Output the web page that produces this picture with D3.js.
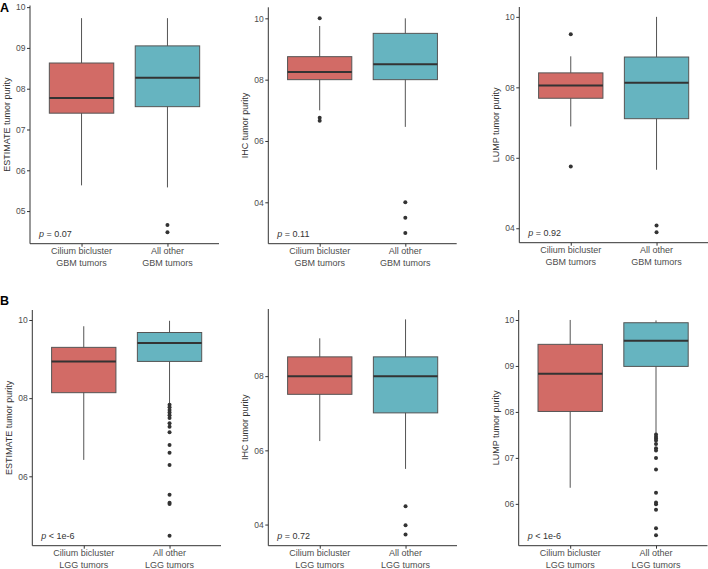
<!DOCTYPE html>
<html>
<head>
<meta charset="utf-8">
<script src="https://cdn.jsdelivr.net/npm/d3@7"></script>
<style>
  body { margin: 0; background: #fff; }
  svg { font-family: "Liberation Sans", Arial, sans-serif; }
</style>
</head>
<body>
<svg id="chart" width="708" height="569"></svg>
<script>
'use strict';

// box stats per group: [lower whisker, q1, median, q3, upper whisker]
const groupNames = ['Cilium bicluster', 'All other'];

const estimateGBM = [[0.563, 0.740, 0.777, 0.863, 0.973], [0.558, 0.756, 0.827, 0.905, 0.973]];
const estimateGBMOut = [[], [0.466, 0.448]];

const ihcGBM = [[0.700, 0.800, 0.825, 0.875, 0.975], [0.646, 0.800, 0.850, 0.951, 1.000]];
const ihcGBMOut = [[1.000, 0.676, 0.666], [0.400, 0.350, 0.300]];

const lumpGBM = [[0.689, 0.769, 0.805, 0.841, 0.888], [0.566, 0.711, 0.813, 0.886, 1.000]];
const lumpGBMOut = [[0.951, 0.575], [0.408, 0.389]];

const estimateLGG = [[0.642, 0.814, 0.894, 0.930, 0.984], [0.786, 0.894, 0.941, 0.968, 0.998]];
const estimateLGGOut = [[], [0.783, 0.777, 0.770, 0.763, 0.756, 0.749, 0.736, 0.727, 0.713,
  0.680, 0.660, 0.629, 0.553, 0.532, 0.529, 0.448]];

const ihcLGG = [[0.625, 0.751, 0.800, 0.852, 0.902], [0.550, 0.701, 0.800, 0.852, 0.953]];
const ihcLGGOut = [[], [0.449, 0.398, 0.373]];

const lumpLGG = [[0.635, 0.801, 0.883, 0.947, 1.000], [0.754, 0.899, 0.955, 0.994, 0.999]];
const lumpLGGOut = [[], [0.751, 0.746, 0.742, 0.738, 0.730, 0.721, 0.716, 0.700, 0.675,
  0.624, 0.603, 0.599, 0.587, 0.547, 0.532]];

const pValues = ['= 0.07', '= 0.11', '= 0.92', '< 1e-6', '= 0.72', '< 1e-6'];

const ticksA = [[0.5, 0.6, 0.7, 0.8, 0.9, 1.0], [0.4, 0.6, 0.8, 1.0], [0.4, 0.6, 0.8, 1.0]];
const ticksB = [[0.6, 0.8, 1.0], [0.4, 0.6, 0.8], [0.6, 0.7, 0.8, 0.9, 1.0]];

const fills = ['#d26b66', '#66b4c0'];

const panels = [
  {stats: estimateGBM, out: estimateGBMOut, title: 'ESTIMATE tumor purity', tumor: 'GBM', ticks: ticksA[0], p: pValues[0],
   x0: 30, x1: 219, top: 5.5, bottom: 243.7, domain: [0.420, 1.004]},
  {stats: ihcGBM, out: ihcGBMOut, title: 'IHC tumor purity', tumor: 'GBM', ticks: ticksA[1], p: pValues[1],
   x0: 268.3, x1: 456.7, top: 7.3, bottom: 243.7, domain: [0.265, 1.036]},
  {stats: lumpGBM, out: lumpGBMOut, title: 'LUMP tumor purity', tumor: 'GBM', ticks: ticksA[2], p: pValues[2],
   x0: 519.3, x1: 708, top: 7, bottom: 242.7, domain: [0.359, 1.028]},
  {stats: estimateLGG, out: estimateLGGOut, title: 'ESTIMATE tumor purity', tumor: 'LGG', ticks: ticksB[0], p: pValues[3],
   x0: 32.3, x1: 221, top: 310, bottom: 545.7, domain: [0.4224, 1.0256]},
  {stats: ihcLGG, out: ihcLGGOut, title: 'IHC tumor purity', tumor: 'LGG', ticks: ticksB[1], p: pValues[4],
   x0: 268.3, x1: 457, top: 309, bottom: 545.7, domain: [0.343, 0.981]},
  {stats: lumpLGG, out: lumpLGGOut, title: 'LUMP tumor purity', tumor: 'LGG', ticks: ticksB[2], p: pValues[5],
   x0: 518.7, x1: 707.5, top: 310, bottom: 545.7, domain: [0.509, 1.0217]}
];

const svg = d3.select('#chart');

// tick labels as printed in the figure (decimal point dropped)
const fmt = v => v.toFixed(1).replace('.', '');

panels.forEach(P => {
  const g = svg.append('g');

  const x = d3.scalePoint()
    .domain(groupNames)
    .range([P.x0, P.x1])
    .padding(0.6);

  const step = x.step();
  const bw = step * 0.75;

  const y = d3.scaleLinear()
    .domain(P.domain)
    .range([P.bottom, P.top]);

  const boxes = g.selectAll('g.box')
    .data(P.stats.map((s, i) => ({s, i, name: groupNames[i], out: P.out[i]})))
    .join('g')
      .attr('class', 'box');

  boxes.append('line')
    .attr('x1', d => x(d.name)).attr('x2', d => x(d.name))
    .attr('y1', d => y(d.s[0])).attr('y2', d => y(d.s[4]))
    .attr('stroke', '#555').attr('stroke-width', 1);

  boxes.append('rect')
    .attr('x', d => x(d.name) - bw / 2)
    .attr('width', bw)
    .attr('y', d => y(d.s[3]))
    .attr('height', d => y(d.s[1]) - y(d.s[3]))
    .attr('fill', d => fills[d.i])
    .attr('stroke', '#555')
    .attr('stroke-width', 1);

  boxes.append('line')
    .attr('x1', d => x(d.name) - bw / 2).attr('x2', d => x(d.name) + bw / 2)
    .attr('y1', d => y(d.s[2])).attr('y2', d => y(d.s[2]))
    .attr('stroke', '#333').attr('stroke-width', 2);

  boxes.selectAll('circle')
    .data(d => d.out.map(v => ({v, name: d.name})))
    .join('circle')
      .attr('cx', d => x(d.name))
      .attr('cy', d => y(d.v))
      .attr('r', 2)
      .attr('fill', '#333');

  // y axis
  const ya = g.append('g')
    .attr('transform', 'translate(' + P.x0 + ',0)')
    .call(d3.axisLeft(y).tickValues(P.ticks).tickFormat(fmt).tickSize(3).tickPadding(1.5));
  ya.select('.domain').remove();
  ya.selectAll('.tick line').attr('stroke', '#333');
  ya.selectAll('.tick text').attr('fill', '#4d4d4d').style('font-size', '8.5px');

  // x axis
  const xa = g.append('g')
    .attr('transform', 'translate(0,' + P.bottom + ')')
    .call(d3.axisBottom(x).tickSize(3).tickFormat(''));
  xa.select('.domain').remove();
  xa.selectAll('.tick line').attr('stroke', '#333');

  g.append('path')
    .attr('d', 'M' + P.x0 + ',' + P.top + 'V' + P.bottom + 'H' + P.x1)
    .attr('fill', 'none')
    .attr('stroke', '#333')
    .attr('stroke-width', 1);

  const labels = g.selectAll('text.cat')
    .data(groupNames)
    .join('text')
      .attr('class', 'cat')
      .attr('x', d => x(d))
      .attr('y', P.bottom + 10.5)
      .attr('text-anchor', 'middle')
      .attr('fill', '#4d4d4d')
      .style('font-size', '9px');
  labels.append('tspan').text(d => d);
  labels.append('tspan')
    .attr('x', d => x(d))
    .attr('dy', 12)
    .text(P.tumor + ' tumors');

  g.append('text')
    .attr('transform', 'translate(' + (P.x0 - 23) + ',' + ((P.top + P.bottom) / 2) + ') rotate(-90)')
    .attr('text-anchor', 'middle')
    .attr('dy', '0.35em')
    .attr('fill', '#333')
    .style('font-size', '9px')
    .text(P.title);

  const pt = g.append('text')
    .attr('x', P.x0 + 9)
    .attr('y', P.bottom - 7)
    .attr('fill', '#333')
    .style('font-size', '9px');
  pt.append('tspan').style('font-style', 'italic').text('p');
  pt.append('tspan').text(' ' + P.p);
});

svg.append('text')
  .attr('x', 0).attr('y', 12)
  .style('font-size', '12.5px').style('font-weight', 'bold')
  .text('A');

svg.append('text')
  .attr('x', 0).attr('y', 304.5)
  .style('font-size', '12.5px').style('font-weight', 'bold')
  .text('B');
</script>
</body>
</html>
